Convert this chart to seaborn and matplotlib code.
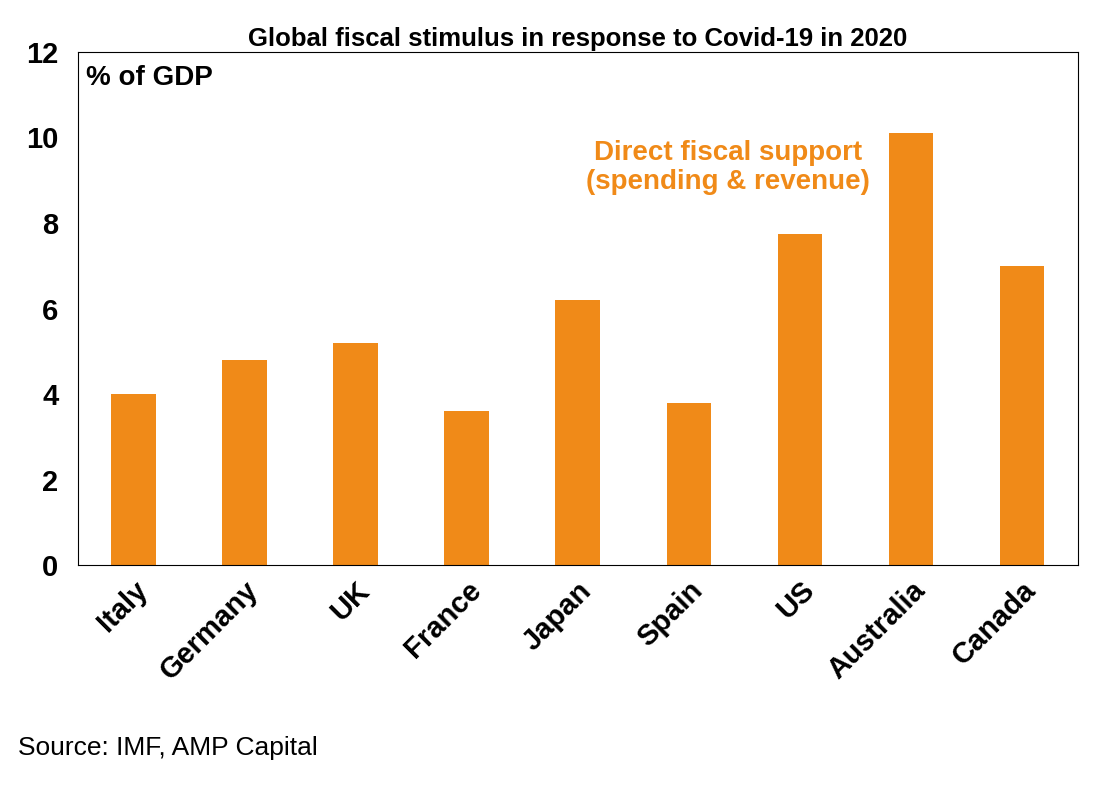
import matplotlib
matplotlib.use("Agg")
import matplotlib.pyplot as plt
import seaborn as sns
import pandas as pd

countries = ["Italy", "Germany", "UK", "France", "Japan", "Spain", "US", "Australia", "Canada"]
stimulus = [4.0, 4.8, 5.2, 3.6, 6.2, 3.8, 7.75, 10.1, 7.0]

orange = "#F08A18"

sns.set_style("white")
plt.rcParams['font.family'] = ['Liberation Sans', 'DejaVu Sans']
plt.rcParams['text.color'] = 'black'
plt.rcParams['xtick.color'] = 'black'
plt.rcParams['ytick.color'] = 'black'

df = pd.DataFrame({"country": countries, "pct": stimulus})

fig = plt.figure(figsize=(11.12, 7.86), dpi=100)
ax = fig.add_axes([0.070, 0.281, 0.899, 0.653])
sns.barplot(data=df, x="country", y="pct", color=orange, saturation=1, width=0.4,
            linewidth=0, ax=ax)

ax.set_ylim(0, 12)
ax.set_yticks(range(0, 13, 2))
ax.set_xlabel("")
ax.set_ylabel("")
ax.set_xlim(-0.5, len(countries) - 0.5)
for s in ax.spines.values():
    s.set_color("black")
    s.set_linewidth(0.8)
ax.tick_params(axis="both", length=0, labelsize=21, pad=8)
ax.tick_params(axis="y", pad=14)
for lab in ax.get_yticklabels():
    lab.set_fontweight("bold")
for lab in ax.get_xticklabels():
    lab.set_fontweight("bold")
    lab.set_rotation(45)
    lab.set_ha("right")
    lab.set_rotation_mode("anchor")

ax.set_title("Global fiscal stimulus in response to Covid-19 in 2020",
             fontsize=18.5, fontweight="bold", pad=4)
ax.text(0.008, 0.975, "% of GDP", transform=ax.transAxes, fontsize=20,
        fontweight="bold", va="top", ha="left")
ax.text(5.35, 9.3, "Direct fiscal support\n(spending & revenue)", color=orange,
        fontsize=20, fontweight="bold", ha="center", va="center", linespacing=1.15)

fig.text(0.016, 0.04, "Source: IMF, AMP Capital", fontsize=19)

fig.savefig("out.png", dpi=100)
